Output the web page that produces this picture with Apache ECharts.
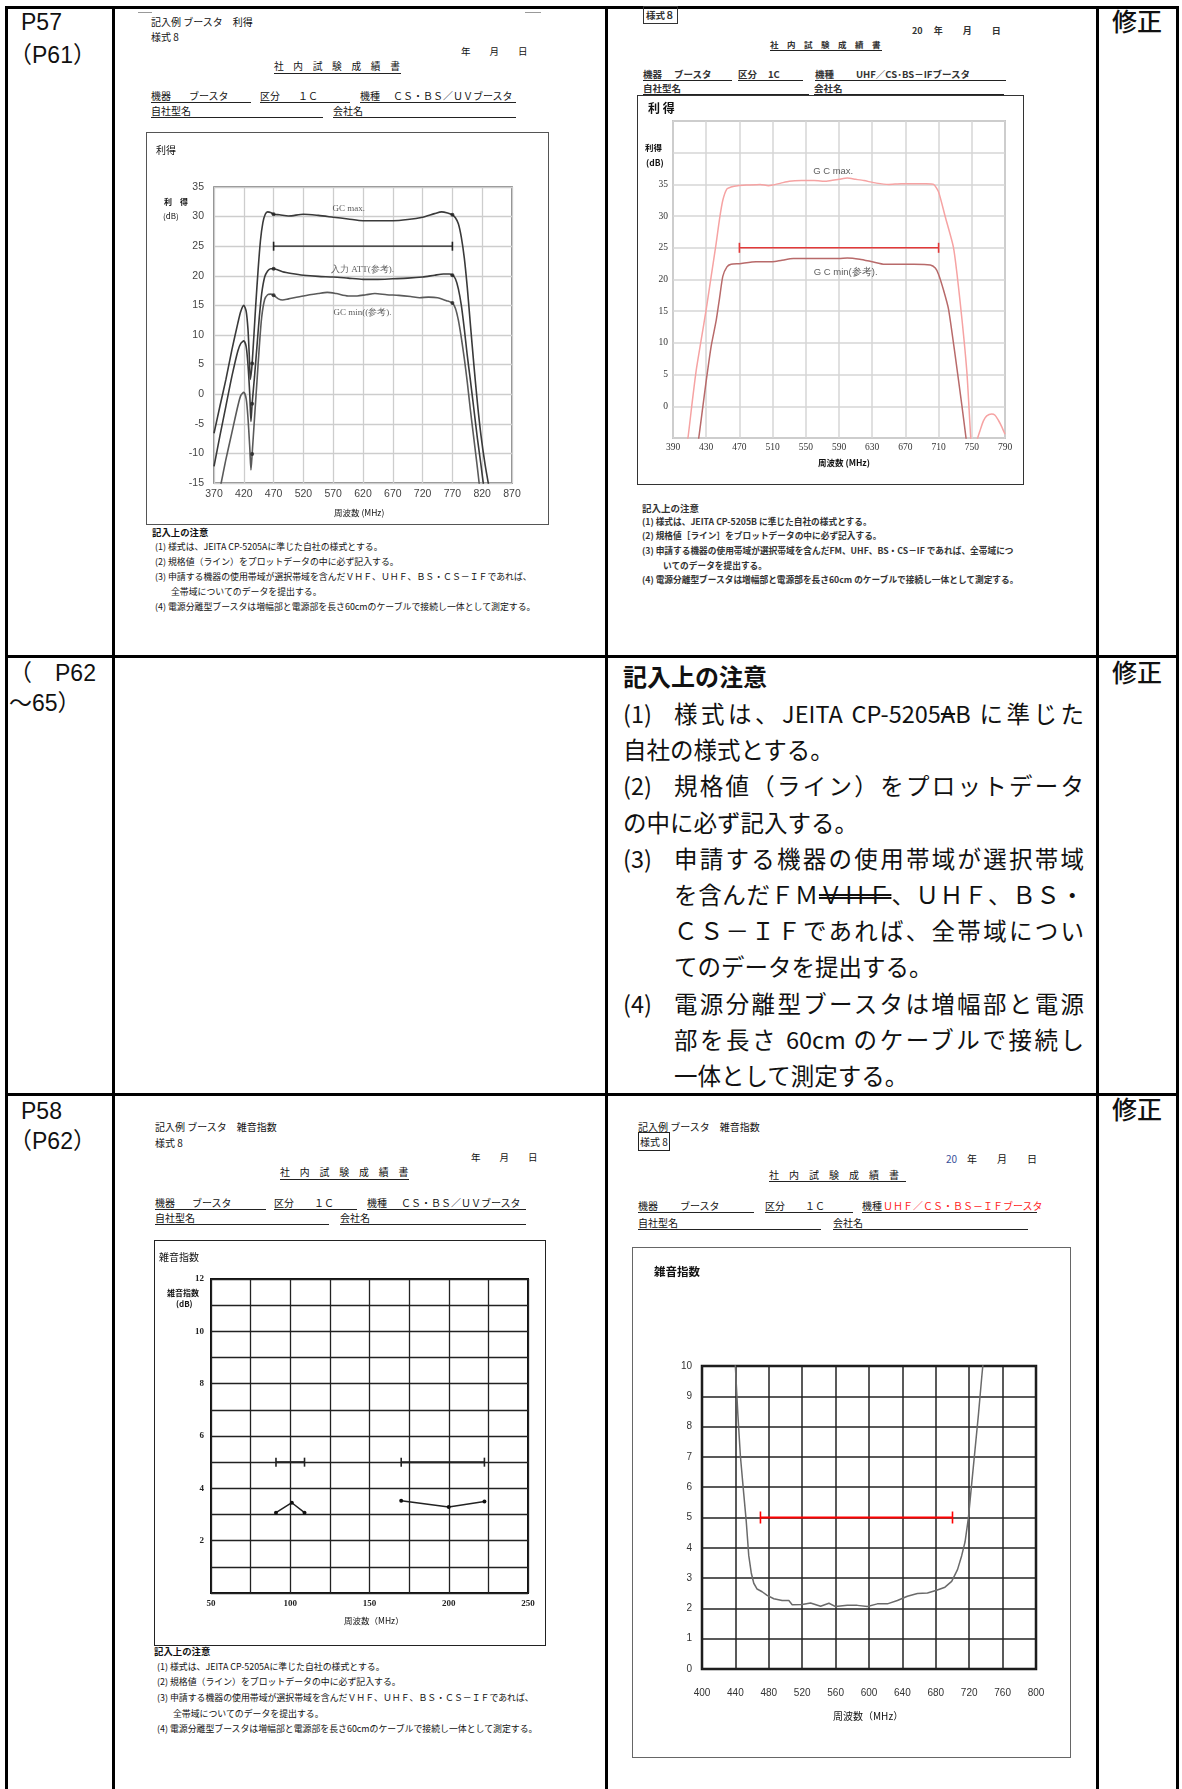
<!DOCTYPE html>
<html><head><meta charset="utf-8">
<script src="https://cdn.jsdelivr.net/npm/echarts@6/dist/echarts.min.js"></script>
<style>
html,body{margin:0;padding:0;background:#fff;}
#page{position:relative;width:1182px;height:1789px;overflow:hidden;font-family:"Noto Sans CJK JP","Noto Sans",sans-serif;color:#111;}
.t{position:absolute;white-space:nowrap;line-height:1;}
.ln{position:absolute;}
.box{position:absolute;box-sizing:border-box;}
.ch{position:absolute;}
.j{position:absolute;white-space:nowrap;line-height:1;text-align:justify;text-align-last:justify;}
</style></head><body><div id="page"></div>
<script>
// ===== DATA =====
// Chart A (top-left): 利得, CS・BS/UV booster
const gainA_freq_max = [370,380,390,400,410,415,420,424,427,429,431,433,434,437,440,444,448,452,456,460,465,470,480,495,520,545,570,595,620,645,670,695,720,740,752,762,770,775,780,785,790,795,800,806,812,818,825,832];
const gainA_max      = [-6.6,-2,2.5,7.5,12,14,15,14,11,7,2.5,4,5.2,10,15,21,26,29,30.4,30.8,30.7,30.4,30.3,30.1,30.4,30.2,29.9,29.6,29.3,29.3,29.3,29.5,29.9,30.5,30.8,30.6,30.3,29.8,28.8,26.5,23,18,12,5,-1.5,-7,-12,-16];
const gainA_freq_att = [370,380,390,400,410,415,420,424,427,430,432,434,438,442,446,450,455,460,465,470,485,500,520,545,570,595,620,645,670,695,720,740,755,765,770,775,780,785,790,795,800,806,812,818,823];
const gainA_att      = [-12.2,-7,-2,3,7.3,8.6,9,8,5,0,-4.6,-1.6,3,8,13,17,19.8,20.8,21.2,21.2,20.7,20.4,20.1,19.9,19.8,19.6,19.4,19.4,19.5,19.6,19.8,20.1,20.3,20.3,20.1,19.5,17.8,15,11,6.5,2.5,-2.5,-7.5,-12,-16];
const gainA_freq_min = [378,385,390,400,410,415,420,424,427,430,432,434,438,442,446,450,455,460,465,470,478,485,495,520,545,560,575,595,610,625,640,660,680,700,715,730,745,760,770,775,780,785,790,795,800,806,812,816];
const gainA_min      = [-17,-13.5,-11,-6.5,-2,-0.2,0.3,-0.8,-4,-9,-12.8,-10.1,-4,2,8,13,16,16.8,16.9,16.7,16.1,15.9,16.1,16.6,17.0,17.2,17.0,16.6,16.6,16.8,17.0,16.8,16.7,16.5,16.3,16.4,16.3,15.8,15.4,14.5,12.5,9.5,6,2,-2.5,-7.5,-12.5,-16];
const gainA_mark_freq = [470,770,470,770,470,770,434,434,434];
const gainA_mark_val  = [30.4,30.3,21.2,20.1,16.7,15.4,5.2,-1.6,-10.1];
const gainA_spec_freq = [470,770];
const gainA_spec_val  = 25;
const gainA_notes = [["GC max.",596,31.3],["入力 ATT(参考).",619,21.0],["GC min((参考).",619,13.7]];

// Chart B (top-right): 利得, UHF/CS・BS-IF booster
const gainB_freq_max = [404,408,413,418,424,430,436,442,446,450,455,460,468,480,495,505,510,520,530,545,560,575,590,600,610,620,635,650,665,680,695,704,710,718,728,736,744,749,752,756,760,764,768,774,778,782,786,790];
const gainB_max      = [-8,-5,0.5,5.7,10.5,15.3,20.5,25.7,29.5,32.5,34.3,34.6,34.8,34.9,35.0,34.8,34.9,35.2,35.5,35.6,35.6,35.5,35.8,36.0,35.8,35.6,35.2,35.0,35.1,35.1,35.1,35.0,33.8,29.9,25.0,16.4,5.5,-5.5,-9,-5.5,-3.8,-2.3,-1.5,-1.2,-1.4,-2.2,-3.2,-4.4];
const gainB_freq_min = [417,421,426,430,436,442,446,450,455,460,470,490,510,520,535,550,570,590,600,615,630,645,660,680,700,706,710,716,722,730,738,744];
const gainB_min      = [-8,-5,0,4,9.5,13.5,17,20.5,22,22.4,22.5,22.8,22.8,23.0,23.3,23.3,23.3,23.3,23.4,23.2,22.8,22.4,22.4,22.4,22.3,21.8,20.8,18.3,15.3,8.0,0.2,-6];
const gainB_spec_freq = [470,710];
const gainB_spec_val  = 25;
const gainB_notes = [["G C max.",583,37.0],["G C min(参考).",598,21.2]];

// Chart C (bottom-left): 雑音指数, VHF
const nfC_spec1_freq = [91,109];
const nfC_spec2_freq = [170,222.5];
const nfC_spec_val = 5;
const nfC_meas1_freq = [91,101,109];
const nfC_meas1 = [3.07,3.45,3.07];
const nfC_meas2_freq = [170,200,222.5];
const nfC_meas2 = [3.53,3.29,3.5];

// Chart D (bottom-right): 雑音指数, UHF
const nfD_freq = [439,443,446,450,453,456,459,462,466,472,478,486,496,504,508,520,530,542,552,560,574,586,598,610,622,634,646,658,670,681,691,699,706,711,715,719,723,727,731,735,738];
const nfD      = [10.5,8.38,7.02,5.78,4.87,3.74,3.17,2.83,2.64,2.55,2.43,2.32,2.26,2.26,2.12,2.13,2.18,2.07,2.17,2.06,2.10,2.10,2.06,2.15,2.15,2.26,2.40,2.49,2.51,2.60,2.70,2.89,3.28,3.74,4.19,4.98,6.12,7.25,8.38,9.63,10.5];
const nfD_spec_freq = [470,700];
const nfD_spec_val = 5;

// ===== PAGE HELPERS =====
const page=document.getElementById('page');
function T(x,yc,html,size,css){const d=document.createElement('div');d.className='t';d.style.left=x+'px';d.style.top=(yc-size*0.55)+'px';d.style.fontSize=size+'px';if(css)Object.assign(d.style,css);d.innerHTML=html;page.appendChild(d);return d;}
function J(x,yc,w,html,size,css){const d=T(x,yc,html,size,css);d.className='j';d.style.width=w+'px';return d;}
function HL(x1,x2,y,w,c){const d=document.createElement('div');d.className='ln';d.style.left=x1+'px';d.style.top=(y-w/2)+'px';d.style.width=(x2-x1)+'px';d.style.height=w+'px';d.style.background=c||'#000';page.appendChild(d);}
function VL(x,y1,y2,w,c){const d=document.createElement('div');d.className='ln';d.style.left=(x-w/2)+'px';d.style.top=y1+'px';d.style.width=w+'px';d.style.height=(y2-y1)+'px';d.style.background=c||'#000';page.appendChild(d);}
function U(x,yc,txt,size,x2,css){T(x,yc,txt,size,css);HL(x,x2,yc+size*0.62,0.9,'#222');}

// ===== TABLE =====
HL(5,1179,7.5,3);HL(5,1179,656.5,3);HL(5,1179,1094,3);
VL(6.5,6,1789,3);VL(113,6,1789,3);VL(606,6,1789,3);VL(1097,6,1789,3);VL(1177.5,6,1789,3);
const big={fontFamily:'"Liberation Sans","Noto Sans CJK JP",sans-serif'};
T(21,24,'P57',23,big);T(9,57,'（P61）',23,big);
T(9,675,'（　P62',23,big);T(9,705,'～65）',23,big);
T(21,1113,'P58',23,big);T(9,1143,'（P62）',23,big);
const fx={fontWeight:'500'};
T(1112,22,'修正',25,fx);T(1112,673,'修正',25,fx);T(1112,1110,'修正',25,fx);

// ===== ROW 2 NOTE TEXT =====
T(623,677,'記入上の注意',24,{fontWeight:'700'});
const bs=23.5, bw=410, bx=674;
const rows2=[
 [623,'(1)',true,'様式は、JEITA CP-5205<s>A</s>B に準じた'],
 [623,null,false,'自社の様式とする。'],
 [623,'(2)',true,'規格値（ライン）をプロットデータ'],
 [623,null,false,'の中に必ず記入する。'],
 [623,'(3)',true,'申請する機器の使用帯域が選択帯域'],
 [bx,null,true,'を含んだＦＭ<span style="text-decoration:line-through;text-decoration-style:double">ＶＨＦ</span>、ＵＨＦ、ＢＳ・'],
 [bx,null,true,'ＣＳ－ＩＦであれば、全帯域につい'],
 [bx,null,false,'てのデータを提出する。'],
 [623,'(4)',true,'電源分離型ブースタは増幅部と電源'],
 [bx,null,true,'部を長さ 60cm のケーブルで接続し'],
 [bx,null,false,'一体として測定する。']
];
rows2.forEach((r,i)=>{const yc=715+i*36.2;
 if(r[1]){T(r[0],yc,r[1],bs);J(bx,yc,bw,r[3],bs);}
 else if(r[2]){J(r[0],yc,1084-r[0],r[3],bs);}
 else T(r[0],yc,r[3],bs);
});

// ===== DOC HEADERS =====
const s=10;
// top-left
HL(138,152,12,1,'#999');HL(525,541,12,1,'#999');
T(151,22,'記入例 ブースタ　利得',s);
T(151,37,'様式 8',s);
T(461,52,'年　　月　　日',9.5);
U(274,67,'社　内　試　験　成　績　書',9.7,401);
U(151,96,'機器',s,251);T(189,96,'ブースタ',s);
U(260,96,'区分',s,350);T(298,96,'１Ｃ',s);
U(360,96,'機種',s,516);T(393,96,'ＣＳ・ＢＳ／ＵＶブースタ',s);
U(151,111,'自社型名',s,323);U(333,111,'会社名',s,516);
// top-right
const sr={fontWeight:'bold',color:'#333'};
T(643,16,'<span style="border:1px solid #333;padding:1px 2px">様式８</span>',9.5,sr);
T(912,31,'20　 年　 　月　 　日',9,sr);
U(770,45,'社　内　試　験　成　績　書',8.5,882,sr);
U(643,75,'機器',9.5,732,sr);T(674,75,'ブースタ',9.5,sr);
U(738,75,'区分',9.5,803,sr);T(768,75,'1C',9.5,sr);
U(815,75,'機種',9.5,1006,sr);T(856,75,'UHF／CS･BS－IFブースタ',9.5,sr);
U(643,89,'自社型名',9.5,809,sr);U(814,89,'会社名',9.5,1004,sr);
// bottom-left
T(155,1127,'記入例 ブースタ　雑音指数',s);
T(155,1143,'様式 8',s);
T(471,1158,'年　　月　　日',9.5);
U(280,1173,'社　内　試　験　成　績　書',9.9,409);
U(155,1203,'機器',s,266);T(192,1203,'ブースタ',s);
U(274,1203,'区分',s,357);T(314,1203,'１Ｃ',s);
U(367,1203,'機種',s,526);T(401,1203,'ＣＳ・ＢＳ／ＵＶブースタ',s);
U(155,1218,'自社型名',s,329);U(340,1218,'会社名',s,526);
// bottom-right
T(638,1127,'記入例 ブースタ　雑音指数',s);
T(638,1142,'<span style="border:1px solid #222;padding:1px 1px">様式 8</span>',s);
T(946,1159,'<span style="color:#3a4f9a">20</span>　年　　月　　日',s);
U(769,1175,'社　内　試　験　成　績　書',10,906);
U(638,1206,'機器',s,754);T(680,1206,'ブースタ',s);
U(765,1206,'区分',s,853);T(805,1206,'１Ｃ',s);
U(862,1206,'機種',s,1037);T(883,1206,'ＵＨＦ／ＣＳ・ＢＳ－ＩＦブースタ',s,{color:'#ff1a1a'});
U(638,1223,'自社型名',s,821);U(833,1223,'会社名',s,1028);

// ===== NOTES UNDER CHARTS =====
function notesA(x,y0,dy,size,css){
 const ys=[0,1,2,3,4,5].map(i=>y0+i*dy);
 T(x,ys[0],'記入上の注意',size+0.5,Object.assign({fontWeight:'bold'},css||{}));
 T(x+3,ys[1],'(1) 様式は、JEITA CP-5205Aに準じた自社の様式とする。',size,css);
 T(x+3,ys[2],'(2) 規格値（ライン）をプロットデータの中に必ず記入する。',size,css);
 T(x+3,ys[3],'(3) 申請する機器の使用帯域が選択帯域を含んだＶＨＦ、ＵＨＦ、ＢＳ・ＣＳ－ＩＦであれば、',size,css);
 T(x+19,ys[4],'全帯域についてのデータを提出する。',size,css);
 T(x+3,ys[5],'(4) 電源分離型ブースタは増幅部と電源部を長さ60cmのケーブルで接続し一体として測定する。',size,css);
}
notesA(152,533,15,8.9);
notesA(154,1652,15.6,8.9);
T(642,509,'記入上の注意',9.5,sr);
T(642,523,'(1) 様式は、JEITA CP-5205B に準じた自社の様式とする。',8.7,sr);
T(642,537,'(2) 規格値［ライン］をプロットデータの中に必ず記入する。',8.7,sr);
T(642,552,'(3) 申請する機器の使用帯域が選択帯域を含んだFM、UHF、BS・CS－IF であれば、全帯域につ',8.7,sr);
T(663,567,'いてのデータを提出する。',8.7,sr);
T(642,581,'(4) 電源分離型ブースタは増幅部と電源部を長さ60cm のケーブルで接続し一体として測定する。',8.7,sr);

// ===== CHARTS =====
function pairs(xs,ys){return xs.map((x,i)=>[x,Array.isArray(ys)?ys[i]:ys]);}
function mk(box,plot,border,opt){
 const b=document.createElement('div');b.className='box';
 Object.assign(b.style,{left:box[0]+'px',top:box[1]+'px',width:(box[2]-box[0])+'px',height:(box[3]-box[1])+'px',border:border});
 page.appendChild(b);
 const c=document.createElement('div');c.className='ch';
 Object.assign(c.style,{left:box[0]+'px',top:box[1]+'px',width:(box[2]-box[0])+'px',height:(box[3]-box[1])+'px'});
 page.appendChild(c);
 opt.grid=Object.assign({left:plot[0]-box[0],top:plot[1]-box[1],width:plot[2]-plot[0],height:plot[3]-plot[1],show:true,backgroundColor:'transparent',containLabel:false},opt.grid||{});
 opt.animation=false;
 const ch=echarts.init(c,null,{renderer:'canvas'});ch.setOption(opt);return ch;
}
function ax(min,max,interval,fmt,lab,margin,lc,lw){
 return {type:'value',min,max,interval,axisLine:{show:false},axisTick:{show:false},
  splitLine:{show:true,lineStyle:{color:lc,width:lw}},
  axisLabel:Object.assign({formatter:fmt,margin,hideOverlap:false,showMinLabel:true,showMaxLabel:true},lab)};
}
function curve(xs,ys,color,w,smooth){return {type:'line',data:pairs(xs,ys),showSymbol:false,symbol:'none',smooth:smooth||false,lineStyle:{color,width:w},clip:true,z:3};}
function spec(xs,v,color,w,h){return {type:'line',data:pairs(xs,v),symbol:'rect',symbolSize:[1.6,h],showSymbol:true,itemStyle:{color},lineStyle:{color,width:w},clip:false,z:4};}
function notes(list,lab){return {type:'scatter',symbolSize:0,silent:true,data:list.map(a=>({name:a[0],value:[a[1],a[2]]})),label:Object.assign({show:true,position:'inside',formatter:'{b}'},lab),z:6};}

// A
const labA={fontFamily:'"Liberation Sans",sans-serif',fontSize:10.5,color:'#444'};
mk([146,132,549,525],[214,187,512,483],'1.5px solid #555',{
 grid:{borderColor:'#666',borderWidth:1.5},
 xAxis:ax(370,870,50,v=>String(v),labA,6,'#cdcdcd',1.3),
 yAxis:ax(-15,35,5,v=>String(v),labA,10,'#cdcdcd',1.3),
 series:[
  curve(gainA_freq_max,gainA_max,'#3a3a3a',1.6,0.25),
  curve(gainA_freq_att,gainA_att,'#3a3a3a',1.6,0.25),
  curve(gainA_freq_min,gainA_min,'#5a5a5a',1.6,0.25),
  spec(gainA_spec_freq,gainA_spec_val,'#222',1.3,9),
  {type:'scatter',data:pairs(gainA_mark_freq,gainA_mark_val),symbolSize:4,itemStyle:{color:'#222'},z:5},
  notes(gainA_notes,{fontFamily:'"Liberation Serif",serif',fontSize:9,color:'#333'})
 ]});
T(156,150,'利得',10);T(164,202,'利　得',8,{fontWeight:'bold'});T(163,216,'(dB)',8);T(334,513,'周波数 (MHz)',8.5);

// B
const labB={fontFamily:'"Liberation Serif",serif',fontSize:9.5,color:'#333'};
mk([637,95,1024,485],[673,121,1005,438],'1.5px solid #333',{
 grid:{borderColor:'#999',borderWidth:1.5},
 xAxis:ax(390,790,40,v=>String(v),labB,4,'#d6d6d6',1.5),
 yAxis:ax(-5,45,5,v=>(v>=0&&v<=35)?String(v):'',labB,5,'#d6d6d6',1.5),
 series:[
  curve(gainB_freq_max,gainB_max,'#f6a3a3',1.5,0.2),
  curve(gainB_freq_min,gainB_min,'#b86a6a',1.5,0.2),
  spec(gainB_spec_freq,gainB_spec_val,'#e23a3a',1.5,10),
  notes(gainB_notes,{fontSize:9.5,color:'#333'})
 ]});
T(648,109,'利 得',12,{fontWeight:'bold'});T(645,148,'利得',8.5,{fontWeight:'bold'});T(646,163,'(dB)',8.5,{fontWeight:'bold'});T(818,463,'周波数 (MHz)',8.5,{fontWeight:'bold'});

// C
const labC={fontFamily:'"Liberation Serif",serif',fontSize:9,fontWeight:'bold',color:'#222'};
mk([154,1240,546,1646],[211,1279,528,1593],'1.5px solid #222',{
 grid:{borderColor:'#111',borderWidth:2},
 xAxis:ax(50,250,25,v=>v%50===0?String(v):'',labC,6,'#222',1.3),
 yAxis:ax(0,12,1,v=>(v>=2&&v%2===0)?String(v):'',labC,7,'#222',1.3),
 series:[
  spec(nfC_spec1_freq,nfC_spec_val,'#222',2,9),
  spec(nfC_spec2_freq,nfC_spec_val,'#222',2,9),
  Object.assign(curve(nfC_meas1_freq,nfC_meas1,'#222',1.5),{showSymbol:true,symbol:'circle',symbolSize:4,itemStyle:{color:'#111'}}),
  Object.assign(curve(nfC_meas2_freq,nfC_meas2,'#222',1.5),{showSymbol:true,symbol:'circle',symbolSize:4,itemStyle:{color:'#111'}})
 ]});
T(159,1257,'雑音指数',10);T(167,1293,'雑音指数',8,{fontWeight:'bold'});T(176,1304,'(dB)',8,{fontWeight:'bold'});T(344,1621,'周波数（MHz）',8.5);

// D
const labD={fontFamily:'"Liberation Sans",sans-serif',fontSize:10,color:'#333'};
mk([632,1247,1071,1758],[702,1366,1036,1669],'1.5px solid #666',{
 grid:{borderColor:'#111',borderWidth:2.5},
 xAxis:ax(400,800,40,v=>String(v),labD,19,'#222',1.5),
 yAxis:ax(0,10,1,v=>String(v),labD,10,'#222',1.5),
 series:[
  curve(nfD_freq,nfD,'#6a6a6a',1.5,false),
  spec(nfD_spec_freq,nfD_spec_val,'#ff0000',2,12)
 ]});
T(654,1272,'雑音指数',11.5,{fontWeight:'bold'});T(833,1716,'周波数（MHz）',10);
</script></body></html>
